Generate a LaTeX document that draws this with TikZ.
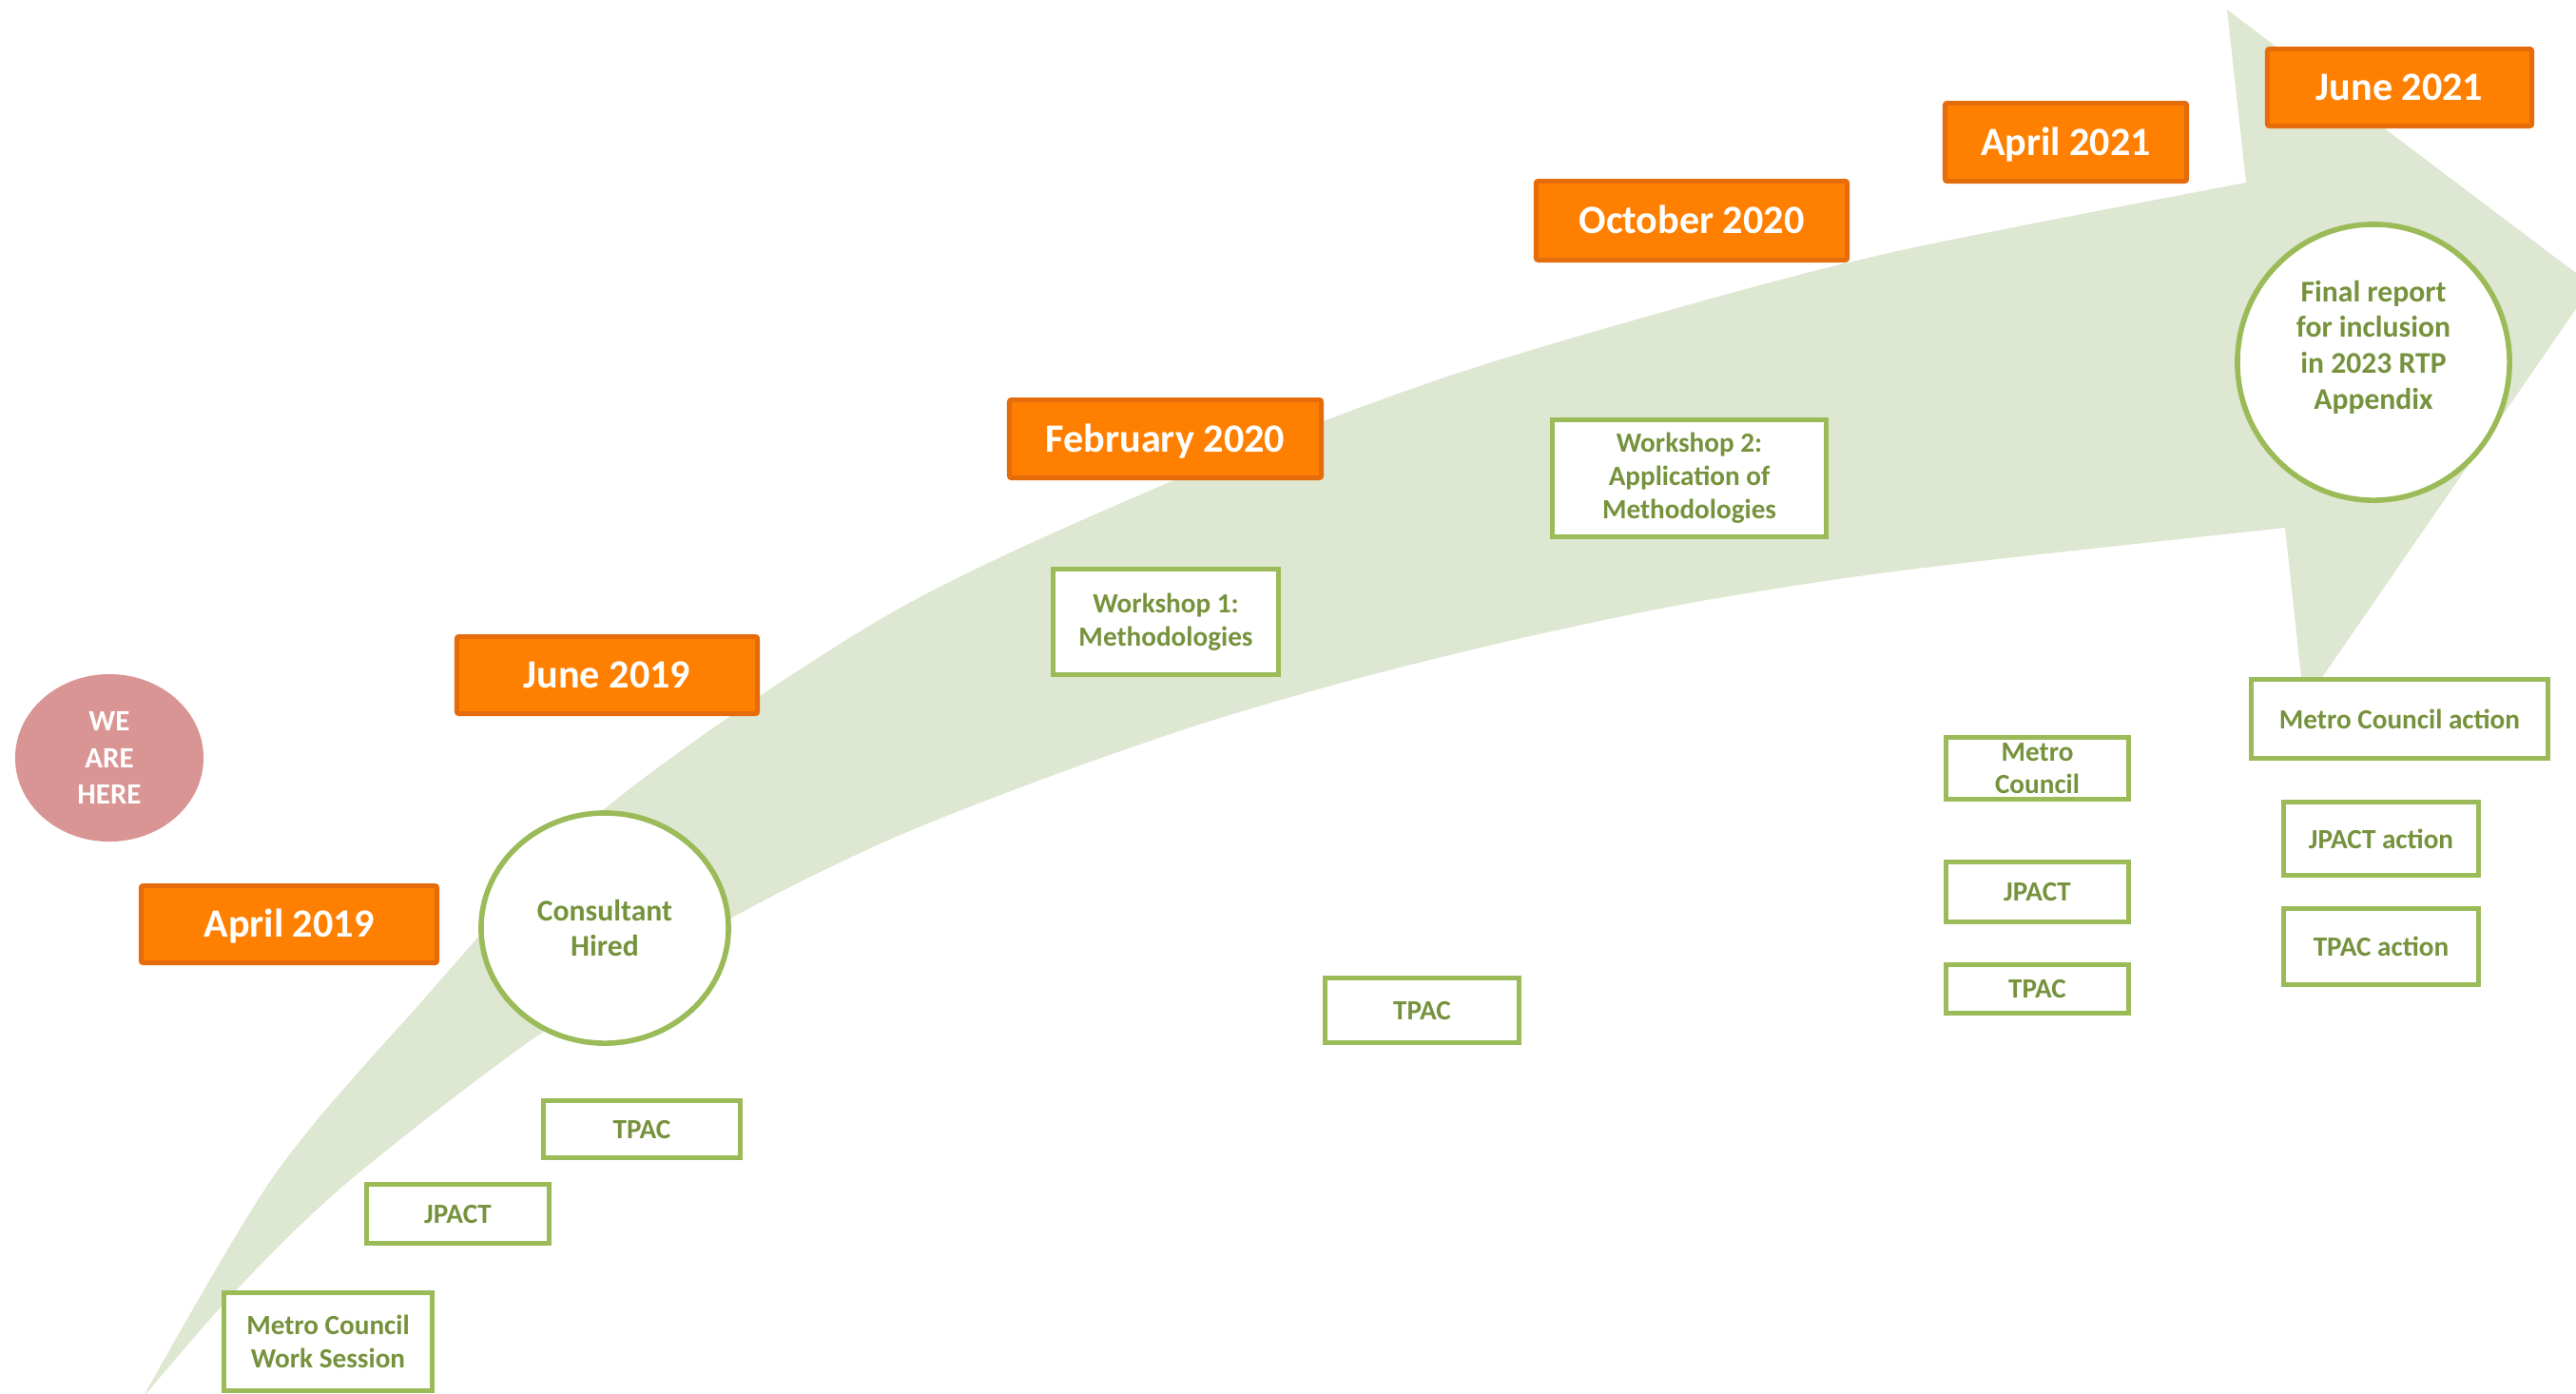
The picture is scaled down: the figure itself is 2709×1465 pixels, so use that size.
\documentclass[tikz,border=0pt]{standalone}
\usepackage{fontspec}
\setmainfont{Carlito}
\usetikzlibrary{shapes.geometric}

\definecolor{dateorange}{RGB}{255,128,0}
\definecolor{dateedge}{RGB}{228,108,10}
\definecolor{stepgreen}{RGB}{155,187,89}
\definecolor{steptext}{RGB}{118,146,60}
\definecolor{bandgreen}{RGB}{222,231,209}
\definecolor{herepink}{RGB}{217,149,148}

\begin{document}
\begin{tikzpicture}[x=0.01cm, y=-0.01cm,
    datebox/.style={draw=dateedge, fill=dateorange, line width=1.4pt, text=white,
        font=\fontsize{12}{14}\selectfont\bfseries, text height=7.7pt, text depth=0pt,
        inner sep=0pt, rounded corners=0.6pt},
    stepbox/.style={draw=stepgreen, fill=white, line width=1.4pt, text=steptext,
        font=\fontsize{8.3}{10}\selectfont\bfseries, align=center, inner sep=0pt},
    milestone/.style={ellipse, draw=stepgreen, fill=white, line width=1.6pt, text=steptext,
        font=\fontsize{9}{10.4}\selectfont\bfseries, align=center, inner sep=0pt}]
    \useasboundingbox (0,0) rectangle (2709,1465);

    % Draw Timeline Band
    \begin{scope}
        \clip (0,0) rectangle (2709,1465);
        \fill[bandgreen] plot[smooth] coordinates {(150,1470) (287,1238) (433,1065) (633,853)
                (933,647) (1230,507) (1510,400) (1767,323) (2000,263) (2362,192)}
            -- (2342,10) -- (2726,300) -- (2423,740) -- (2403,555)
            -- plot[smooth] coordinates {(2403,555) (2100,588) (1933,609) (1767,636) (1600,671)
                (1433,712) (1267,760) (1100,818) (933,884) (770,965) (567,1088) (367,1242)
                (250,1355) (150,1470)} -- cycle;
    \end{scope}

    % You Are Here Marker
    \node[ellipse, fill=herepink, text=white, minimum width=1.98cm, minimum height=1.76cm,
        font=\fontsize{8.8}{11}\selectfont\bfseries, align=center, inner sep=0pt]
        (here) at (115,797) {WE\\ARE\\HERE};

    % Date Labels
    \node[datebox, minimum width=3.11cm, minimum height=0.81cm] (apr19) at (304,972) {April 2019};
    \node[datebox, minimum width=3.16cm, minimum height=0.81cm] (jun19) at (638.5,710) {June 2019};
    \node[datebox, minimum width=3.28cm, minimum height=0.82cm] (feb20) at (1225.5,461.5) {February 2020};
    \node[datebox, minimum width=3.27cm, minimum height=0.83cm] (oct20) at (1779,232) {October 2020};
    \node[datebox, minimum width=2.54cm, minimum height=0.82cm] (apr21) at (2172.5,149.5) {April 2021};
    \node[datebox, minimum width=2.78cm, minimum height=0.81cm] (jun21) at (2523.5,92) {June 2021};

    % Milestones
    \node[milestone, minimum width=2.60cm, minimum height=2.42cm] (hired) at (636,976) {Consultant\\Hired};
    \node[milestone, minimum width=2.86cm, minimum height=2.90cm] (final) at (2496,381) {};
    \node[text=steptext, font=\fontsize{9}{10.7}\selectfont\bfseries, align=center]
        (finalText) at (2496,365) {Final report\\for inclusion\\in 2023 RTP\\Appendix};

    % Meeting Steps
    % -- 2019
    \node[stepbox, minimum width=2.19cm, minimum height=1.03cm] (mcws) at (345,1411) {Metro Council\\Work Session};
    \node[stepbox, minimum width=1.92cm, minimum height=0.62cm] (jpactA) at (481.5,1276.5) {JPACT};
    \node[stepbox, minimum width=2.07cm, minimum height=0.60cm] (tpacA) at (675,1187.5) {TPAC};

    % -- 2020
    \node[stepbox, minimum width=2.37cm, minimum height=1.11cm] (wsA) at (1226,654) {Workshop 1:\\Methodologies};
    \node[stepbox, minimum width=2.04cm, minimum height=0.68cm] (tpacB) at (1495.5,1062.5) {TPAC};
    \node[stepbox, minimum width=2.88cm, minimum height=1.23cm] (wsB) at (1776.5,503) {Workshop 2:\\Application of\\Methodologies};

    % -- 2021
    \node[stepbox, minimum width=1.92cm, minimum height=0.65cm, font=\fontsize{8.3}{9.7}\selectfont\bfseries]
        (mcB) at (2142.5,808) {Metro\\Council};
    \node[stepbox, minimum width=1.92cm, minimum height=0.63cm] (jpactB) at (2142.5,938) {JPACT};
    \node[stepbox, minimum width=1.92cm, minimum height=0.51cm] (tpacC) at (2142.5,1040) {TPAC};
    \node[stepbox, minimum width=3.12cm, minimum height=0.83cm] (mcAct) at (2523.5,756) {Metro Council action};
    \node[stepbox, minimum width=2.05cm, minimum height=0.77cm] (jpactAct) at (2504,882) {JPACT action};
    \node[stepbox, minimum width=2.05cm, minimum height=0.80cm] (tpacAct) at (2504,995.5) {TPAC action};
\end{tikzpicture}
\end{document}
